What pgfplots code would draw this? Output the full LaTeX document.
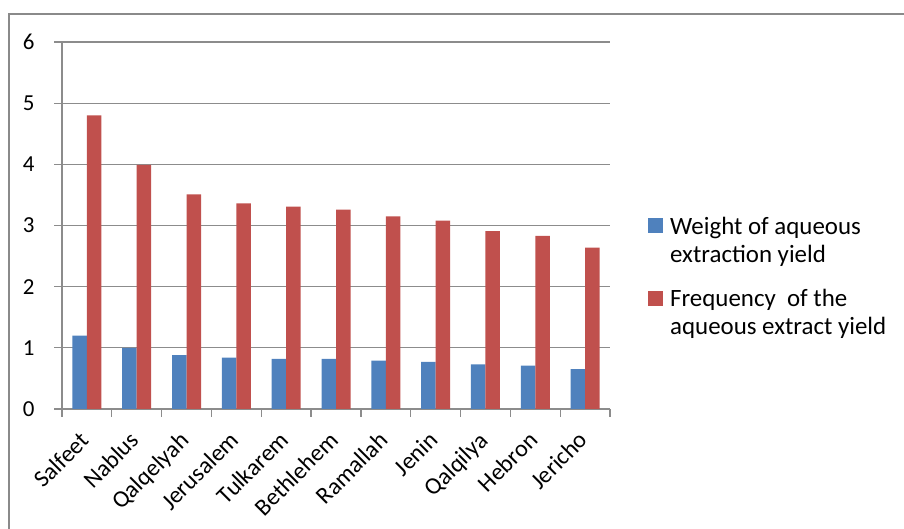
\documentclass[border=0pt]{standalone}
\usepackage{fontspec}
\setmainfont{Carlito}
\usepackage{pgfplots}
\pgfplotsset{compat=1.18}
\definecolor{xblue}{HTML}{4F81BD}
\definecolor{xred}{HTML}{C0504D}
\definecolor{xgrid}{HTML}{8C8C8C}
\definecolor{xborder}{HTML}{8A8A8A}
\pgfplotsset{sqlegend/.style={legend image code/.code={\fill[##1] (0bp,-0.5bp) rectangle (15bp,14.5bp); \path[fill=none, draw=none] (0bp,-14.5bp) rectangle (15bp,0.5bp);}}}
\begin{document}
\begin{tikzpicture}
\path[use as bounding box] (0bp,0bp) rectangle (904bp,529bp);
\draw[xborder, line width=2.5bp] (9bp,0bp) -- (9bp,515bp) -- (904bp,515bp);
\begin{axis}[
  at={(62bp,120bp)}, anchor=south west,
  scale only axis, width=548bp, height=367bp,
  ybar=0pt, bar width=14.5bp,
  xmin=-0.5, xmax=10.5, ymin=0, ymax=6,
  ytick={0,1,2,3,4,5,6},
  xtick={-0.5,0.5,...,10.5},
  xticklabels={,,,,,,,,,,,,},
  extra x ticks={0,1,2,3,4,5,6,7,8,9,10},
  extra x tick labels={Salfeet,Nablus,Qalqelyah,Jerusalem,Tulkarem,Bethlehem,Ramallah,Jenin,Qalqilya,Hebron,Jericho},
  extra x tick style={major tick length=0pt, xticklabel style={xshift=-8bp, yshift=-21bp, rotate=45, anchor=north east, inner sep=0pt, font=\fontsize{24}{28}\selectfont}},
  axis x line=bottom, axis y line=left,
  axis line style={-, draw=xgrid, line width=1.2bp},
  tick align=outside, major tick length=8bp,
  tick style={draw=xgrid, line width=1.2bp},
  ymajorgrids, grid style={draw=xgrid, line width=1.2bp},
  tick label style={font=\fontsize{23}{28}\selectfont},
  /pgf/number format/assume math mode=true,
  yticklabel style={xshift=-16bp},
  legend style={at={(1.0693,0.382)}, anchor=west, draw=none, fill=none, inner sep=0pt,
    row sep=33bp, column sep=5bp, font=\fontsize{25}{28}\selectfont,
    cells={inner sep=0pt}},
  legend cell align=left,
]
\addplot[draw=none, fill=xblue, sqlegend] coordinates {(0,1.20) (1,1.00) (2,0.88) (3,0.84) (4,0.82) (5,0.82) (6,0.79) (7,0.77) (8,0.73) (9,0.71) (10,0.65)};
\addlegendentry{\begin{tabular}{@{}l@{}}Weight of aqueous\\extraction yield\end{tabular}}
\addplot[draw=none, fill=xred, sqlegend] coordinates {(0,4.80) (1,3.99) (2,3.51) (3,3.36) (4,3.31) (5,3.26) (6,3.15) (7,3.08) (8,2.91) (9,2.83) (10,2.64)};
\addlegendentry{\begin{tabular}{@{}l@{}}Frequency\ \ of the\\aqueous extract yield\end{tabular}}
\end{axis}
\end{tikzpicture}
\end{document}
